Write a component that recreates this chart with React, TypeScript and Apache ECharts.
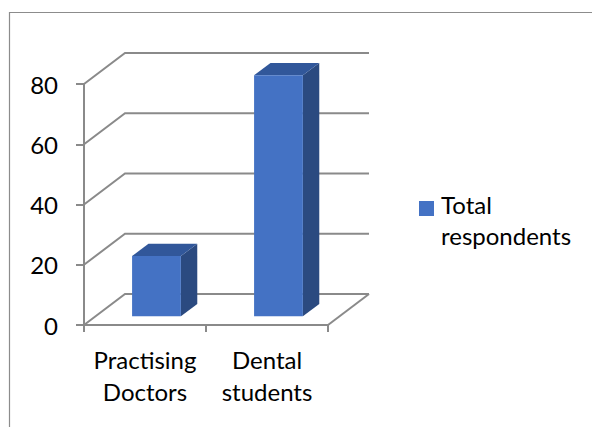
import React, { useEffect, useRef } from "react";
import * as echarts from "echarts";

const categories = ["Practising Doctors", "Dental students"];
const values = [20, 80];
const yTicks = [0, 20, 40, 60, 80];
const seriesName = "Total respondents";

const DX = 41;
const DY = -31;
const FRONT = 0.28;
const BACK = 0.68;
const GRID_COLOR = "#8a8a8a";
const FONT = "Lato, 'Noto Sans', sans-serif";

export default function App() {
  const ref = useRef<HTMLDivElement>(null);
  useEffect(() => {
    document.body.style.margin = "0";
    const chart = echarts.init(ref.current!, null, { renderer: "svg" });
    const option: any = {
      animation: false,
      backgroundColor: "#ffffff",
      grid: { left: 84, top: 84, width: 244, height: 241 },
      xAxis: {
        type: "category",
        data: categories,
        axisLine: { show: true, lineStyle: { color: GRID_COLOR, width: 2 } },
        axisTick: { show: true, length: 7, lineStyle: { color: GRID_COLOR, width: 2 } },
        axisLabel: {
          formatter: (s: string) => s.replace(" ", "\n"),
          fontFamily: FONT,
          fontSize: 24,
          lineHeight: 32,
          color: "#000",
          margin: 18,
          interval: 0,
        },
        splitLine: { show: false },
      },
      yAxis: {
        type: "value",
        min: 0,
        max: 80,
        interval: 20,
        axisLine: { show: true, lineStyle: { color: GRID_COLOR, width: 2 } },
        axisTick: { show: true, length: 8, lineStyle: { color: GRID_COLOR, width: 2 } },
        axisLabel: { fontFamily: FONT, fontSize: 24, color: "#000", margin: 26 },
        splitLine: { show: false },
      },
      legend: {
        data: [seriesName],
        left: 419,
        top: 189,
        padding: 0,
        orient: "vertical",
        itemWidth: 15,
        itemHeight: 46,
        icon: "path://M0 0L0.01 0 M0 4H15V19H0Z M0 46L0.01 46",
        formatter: (n: string) => n.replace(" ", "\n"),
        textStyle: {
          fontFamily: FONT,
          fontSize: 24,
          lineHeight: 31,
          color: "#000",
          padding: [0, 0, 0, 2],
        },
      },
      graphic: [
        {
          type: "rect",
          shape: { x: 9.5, y: 12.5, width: 640, height: 460 },
          style: { fill: "none", stroke: "#8c8c8c", lineWidth: 1.2 },
          silent: true,
          z: -10,
        },
      ],
      series: [
        {
          type: "custom",
          name: "grid3d",
          coordinateSystem: "cartesian2d",
          silent: true,
          data: yTicks.map((v) => [0, v]),
          encode: { x: 0, y: 1 },
          renderItem: (params: any, api: any) => {
            const cs = params.coordSys;
            const left = cs.x;
            const right = cs.x + cs.width;
            const y = api.coord([0, api.value(1)])[1];
            const children: any[] = [
              {
                type: "polyline",
                shape: {
                  points: [
                    [left, y],
                    [left + DX, y + DY],
                    [right + DX, y + DY],
                  ],
                },
                style: { stroke: GRID_COLOR, lineWidth: 2, fill: "none" },
              },
            ];
            if (api.value(1) === 0) {
              children.push({
                type: "line",
                shape: { x1: right, y1: y, x2: right + DX, y2: y + DY },
                style: { stroke: GRID_COLOR, lineWidth: 2 },
              });
            }
            return { type: "group", children };
          },
          z: 1,
        },
        {
          type: "custom",
          name: seriesName,
          coordinateSystem: "cartesian2d",
          itemStyle: { color: "#4472C4" },
          data: values.map((v, i) => [i, v]),
          encode: { x: 0, y: 1 },
          renderItem: (params: any, api: any) => {
            const idx = api.value(0);
            const base = api.coord([idx, 0]);
            const top = api.coord([idx, api.value(1)]);
            const catW = api.size([1, 0])[0];
            const w = catW * 0.4;
            const L = base[0] + FRONT * DX - w / 2;
            const R = L + w;
            const T = top[1] + FRONT * DY;
            const B = base[1] + FRONT * DY;
            const bdx = (BACK - FRONT) * DX;
            const bdy = (BACK - FRONT) * DY;
            return {
              type: "group",
              children: [
                {
                  type: "polygon",
                  shape: {
                    points: [
                      [R, T],
                      [R + bdx, T + bdy],
                      [R + bdx, B + bdy],
                      [R, B],
                    ],
                  },
                  style: { fill: "#2B4A80" },
                },
                {
                  type: "polygon",
                  shape: {
                    points: [
                      [L, T],
                      [R, T],
                      [R + bdx, T + bdy],
                      [L + bdx, T + bdy],
                    ],
                  },
                  style: { fill: "#31579A" },
                },
                {
                  type: "rect",
                  shape: { x: L, y: T, width: w, height: B - T },
                  style: { fill: "#4472C4" },
                },
              ],
            };
          },
          z: 2,
        },
      ],
    };
    chart.setOption(option);
    return () => chart.dispose();
  }, []);
  return (
    <div
      ref={ref}
      style={{ position: "absolute", left: 0, top: 0, width: 592, height: 427 }}
    />
  );
}
